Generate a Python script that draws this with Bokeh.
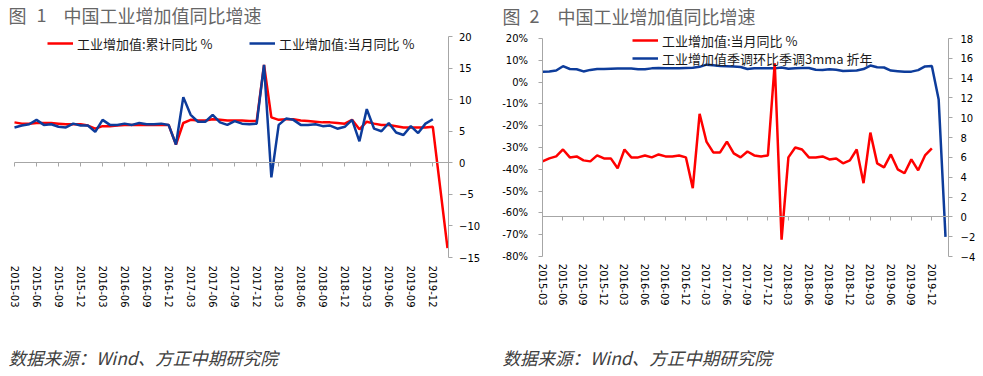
from bokeh.plotting import figure
from bokeh.models import (Range1d, LinearAxis, FixedTicker, Legend, LegendItem,
                          Label, ColumnDataSource, PrintfTickFormatter)
from bokeh.layouts import row
from bokeh.embed import file_html
from bokeh.resources import INLINE

# ---------------- data ----------------
months = [
    "2015-03", "2015-04", "2015-05", "2015-06", "2015-07", "2015-08", "2015-09", "2015-10", "2015-11", "2015-12",
    "2016-01", "2016-02", "2016-03", "2016-04", "2016-05", "2016-06", "2016-07", "2016-08", "2016-09", "2016-10", "2016-11", "2016-12",
    "2017-01", "2017-02", "2017-03", "2017-04", "2017-05", "2017-06", "2017-07", "2017-08", "2017-09", "2017-10", "2017-11", "2017-12",
    "2018-01", "2018-02", "2018-03", "2018-04", "2018-05", "2018-06", "2018-07", "2018-08", "2018-09", "2018-10", "2018-11", "2018-12",
    "2019-01", "2019-02", "2019-03", "2019-04", "2019-05", "2019-06", "2019-07", "2019-08", "2019-09", "2019-10", "2019-11", "2019-12",
    "2020-01", "2020-02",
]
tick_labels = ["2015-03", "2015-06", "2015-09", "2015-12", "2016-03", "2016-06", "2016-09", "2016-12",
               "2017-03", "2017-06", "2017-09", "2017-12", "2018-03", "2018-06", "2018-09", "2018-12",
               "2019-03", "2019-06", "2019-09", "2019-12"]

# 工业增加值:累计同比 % (2015-03 .. 2020-02, None = no value)
cum_yoy = [6.4, 6.2, 6.2, 6.3, 6.3, 6.3, 6.2, 6.1, 6.1, 6.1,
           5.9, 5.4, 5.8, 5.8, 5.9, 6.0, 6.0, 6.0, 6.0, 6.0, 6.0, 6.0,
           2.9, 6.3, 6.8, 6.7, 6.7, 6.9, 6.8, 6.7, 6.7, 6.7, 6.6, 6.6,
           15.5, 7.2, 6.8, 6.9, 6.9, 6.7, 6.6, 6.5, 6.4, 6.4, 6.3, 6.2,
           6.8, 5.3, 6.5, 6.2, 6.0, 6.0, 5.8, 5.6, 5.6, 5.6, 5.6, 5.7,
           None, -13.5]
# 工业增加值:当月同比 % (2015-03 .. 2019-12)
mon_yoy = [5.6, 5.9, 6.1, 6.8, 6.0, 6.1, 5.7, 5.6, 6.2, 5.9,
           5.9, 4.9, 6.8, 6.0, 6.0, 6.2, 6.0, 6.3, 6.1, 6.1, 6.2, 6.0,
           2.9, 10.4, 7.6, 6.5, 6.5, 7.6, 6.4, 6.0, 6.6, 6.2, 6.1, 6.2,
           15.5, -2.3, 6.0, 7.0, 6.8, 6.0, 6.0, 6.1, 5.8, 5.9, 5.4, 5.7,
           6.8, 3.4, 8.5, 5.4, 5.0, 6.3, 4.8, 4.4, 5.8, 4.7, 6.2, 6.9]
# 工业增加值季调环比季调3mma 折年 % (2015-03 .. 2020-02)
sa_3mma = [4.7, 4.9, 5.3, 7.3, 6.0, 5.9, 4.9, 5.6, 6.0, 6.0,
           6.1, 6.2, 6.2, 6.2, 5.9, 5.9, 6.3, 6.5, 6.4, 6.3, 6.4, 6.5,
           6.6, 7.0, 8.0, 7.7, 7.4, 7.3, 7.1, 6.9, 6.0, 6.4, 6.4, 6.3,
           6.3, 6.7, 6.1, 6.4, 6.5, 6.5, 5.7, 5.6, 5.9, 5.7, 5.1, 5.2,
           5.3, 6.0, 7.6, 6.8, 6.7, 5.3, 5.0, 4.7, 4.8, 5.5, 7.2, 7.4,
           -8.0, -71.0]

y1_ticks = [-15, -10, -5, 0, 5, 10, 15, 20]
y2_left_ticks = [-80, -70, -60, -50, -40, -30, -20, -10, 0, 10, 20]
y2_right_ticks = [-4, -2, 0, 2, 4, 6, 8, 10, 12, 14, 16, 18]

# ---------------- styling / layout (pixels) ----------------
RED = "#FF0000"
BLUE = "#0D3C9B"
AXIS = "#A6A6A6"
NUM_FONT = "DejaVu Sans"
CJK = "Noto Sans CJK SC"
TITLE_COL = "#666666"
SRC_COL = "#404040"
H = 376

tick_pos = [months.index(t) for t in tick_labels]
overrides = {months.index(t): t for t in tick_labels}

cum_src = ColumnDataSource(dict(
    x=[i for i, v in enumerate(cum_yoy) if v is not None],
    y=[v for v in cum_yoy if v is not None]))
mon_src = ColumnDataSource(dict(x=list(range(len(mon_yoy))), y=mon_yoy))
sa_src = ColumnDataSource(dict(x=list(range(len(sa_3mma))), y=sa_3mma))


def lin_range(p_a, v_a, p_b, v_b, p_lo, p_hi):
    """range so that pixel p_a -> v_a, p_b -> v_b over a frame from p_lo..p_hi"""
    k = (v_b - v_a) / (p_b - p_a)
    lo, hi = v_a + (p_lo - p_a) * k, v_a + (p_hi - p_a) * k
    return Range1d(min(lo, hi), max(lo, hi))


def px_to_x(rng, p, width):
    return rng.start + (rng.end - rng.start) * p / width


def bare_figure(w, xr, yr):
    p = figure(width=w, height=H, x_range=xr, y_range=yr,
               output_backend="svg", toolbar_location=None,
               x_axis_location=None, y_axis_location=None,
               min_border=0, min_border_left=0, min_border_right=0,
               min_border_top=0, min_border_bottom=0,
               outline_line_color=None, background_fill_color="white",
               border_fill_color="white")
    p.grid.visible = False
    return p


def y_axis(p, side, loc, ticks, standoff, range_name="default", fmt=None):
    ax = LinearAxis(fixed_location=loc, y_range_name=range_name,
                    ticker=FixedTicker(ticks=ticks), bounds=(ticks[0], ticks[-1]),
                    axis_line_color=AXIS, major_tick_line_color=AXIS,
                    minor_tick_line_color=None, major_tick_in=0, major_tick_out=4,
                    major_label_standoff=standoff, major_label_text_font=NUM_FONT,
                    major_label_text_font_size="10px", major_label_text_color="#000000")
    if fmt is not None:
        ax.formatter = fmt
    p.add_layout(ax, side)


def x_axis(p, bounds, standoff, range_name="default"):
    ax = LinearAxis(fixed_location=0, y_range_name=range_name,
                    ticker=FixedTicker(ticks=tick_pos), bounds=bounds,
                    major_label_overrides=overrides,
                    axis_line_color=AXIS, major_tick_line_color=AXIS,
                    minor_tick_line_color=None, major_tick_in=0, major_tick_out=4,
                    major_label_standoff=standoff,
                    major_label_orientation="vertical",
                    major_label_text_font=NUM_FONT,
                    major_label_text_font_size="10px",
                    major_label_text_color="#000000")
    p.add_layout(ax, "below")


def one_legend(label, r, x_px, yc_px):
    return Legend(items=[LegendItem(label=label, renderers=[r])],
                  location=(x_px, H - yc_px - 10), orientation="vertical",
                  glyph_width=26, glyph_height=20, label_height=20,
                  label_standoff=4, padding=0, margin=0, spacing=0,
                  border_line_color=None, background_fill_alpha=0,
                  label_text_font=CJK, label_text_font_size="13px",
                  label_text_color="#1a1a1a")


def text(x_px, yc_px, s, size, color, style="normal"):
    return Label(x=x_px, y=H - yc_px, x_units="screen", y_units="screen", text=s,
                 text_font=CJK, text_font_size=size, text_color=color,
                 text_font_style=style, text_baseline="middle", text_align="left")


# ---------------- figure 1 ----------------
W1 = 490
xr1 = lin_range(14, 0, 447, 59, 0, W1)
yr1 = lin_range(257, -15, 36, 20, H, 0)
p1 = bare_figure(W1, xr1, yr1)
x_right1 = px_to_x(xr1, 447.5, W1)
y_axis(p1, "right", x_right1, y1_ticks, 7)
x_axis(p1, (0, x_right1), 99)

r_cum = p1.line("x", "y", source=cum_src, color=RED, line_width=2.5)
r_mon = p1.line("x", "y", source=mon_src, color=BLUE, line_width=2.5)

p1.add_layout(one_legend("工业增加值:累计同比 %", r_cum, 47, 43))
p1.add_layout(one_legend("工业增加值:当月同比 %", r_mon, 249, 43))

p1.add_layout(text(8, 14, "图", "18px", TITLE_COL))
p1.add_layout(text(36, 14, "1", "18px", TITLE_COL))
p1.add_layout(text(63, 14, "中国工业增加值同比增速", "18px", TITLE_COL))
p1.add_layout(text(8, 357, "数据来源：Wind、方正中期研究院", "17.5px", SRC_COL, "italic"))

# ---------------- figure 2 ----------------
W2 = 493
xr2 = lin_range(52, 0, 455, 59, 0, W2)
yl2 = lin_range(256, -80, 38, 20, H, 0)
yr2 = lin_range(256, -4, 38, 18, H, 0)
p2 = bare_figure(W2, xr2, yl2)
p2.extra_y_ranges = {"right": yr2}
x_left2 = px_to_x(xr2, 51.5, W2)
x_right2 = px_to_x(xr2, 458, W2)
y_axis(p2, "left", x_left2, y2_left_ticks, 10, fmt=PrintfTickFormatter(format="%d%%"))
y_axis(p2, "right", x_right2, y2_right_ticks, 8, range_name="right")
x_axis(p2, (x_left2, x_right2), 43, range_name="right")

r_sa = p2.line("x", "y", source=sa_src, color=BLUE, line_width=2.5)
r_mon2 = p2.line("x", "y", source=mon_src, color=RED, line_width=2.5, y_range_name="right")

p2.add_layout(one_legend("工业增加值:当月同比 %", r_mon2, 142, 40))
p2.add_layout(one_legend("工业增加值季调环比季调3mma 折年", r_sa, 142, 58))

p2.add_layout(text(12, 15, "图", "18px", TITLE_COL))
p2.add_layout(text(39, 15, "2", "18px", TITLE_COL))
p2.add_layout(text(67, 15, "中国工业增加值同比增速", "18px", TITLE_COL))
p2.add_layout(text(12, 357, "数据来源：Wind、方正中期研究院", "17.5px", SRC_COL, "italic"))

layout = row(p1, p2, spacing=0)
open("out.html", "w").write(file_html(layout, INLINE))
